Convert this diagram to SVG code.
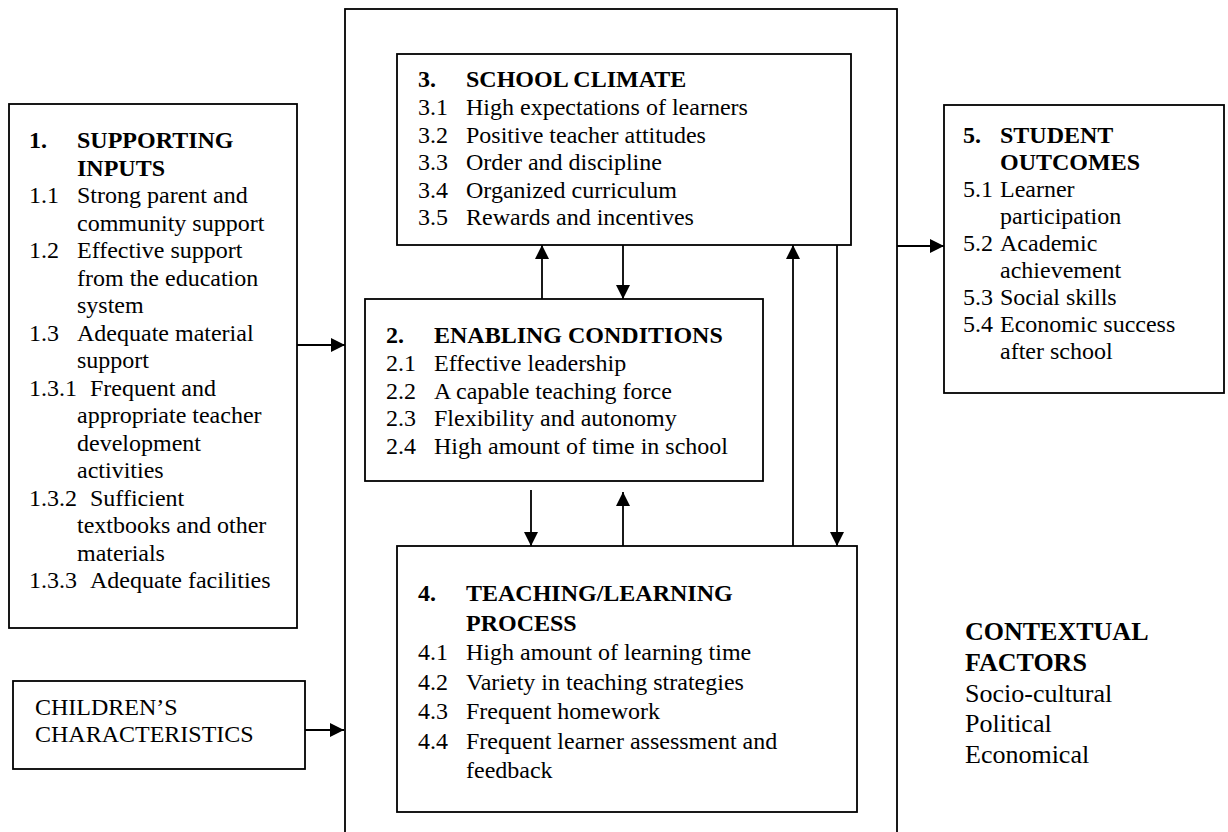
<svg xmlns="http://www.w3.org/2000/svg" width="1228" height="832" viewBox="0 0 1228 832">
<style>
  .box { fill: #fff; stroke: #000; stroke-width: 1.8; }
  .frame { fill: none; stroke: #000; stroke-width: 1.8; }
  .t { font-family: "Liberation Serif", "Times New Roman", serif; font-size: 24px; fill: #000; }
  .b { font-weight: bold; }
  .ctx { font-family: "Liberation Serif", "Times New Roman", serif; font-size: 26px; fill: #000; }
  .conn { stroke: #000; stroke-width: 1.8; fill: none; }
</style>
<defs>
  <marker id="ah" viewBox="0 0 14 14" refX="14" refY="7" markerWidth="14" markerHeight="14" markerUnits="userSpaceOnUse" orient="auto">
    <path d="M0,0 L14,7 L0,14 Z" fill="#000"/>
  </marker>
</defs>
<rect width="1228" height="832" fill="#fff"/>

<g id="frame">
  <rect class="frame" x="345" y="9" width="552" height="840"/>
</g>

<g id="node1">
  <rect class="box" x="9" y="104" width="288" height="524"/>
  <text class="t b" x="29" y="148">1.</text><text class="t b" x="77" y="148">SUPPORTING</text>
  <text class="t b" x="77" y="175.5">INPUTS</text>
  <text class="t" x="29" y="203">1.1</text><text class="t" x="77" y="203">Strong parent and</text>
  <text class="t" x="77" y="230.5">community support</text>
  <text class="t" x="29" y="258">1.2</text><text class="t" x="77" y="258">Effective support</text>
  <text class="t" x="77" y="285.5">from the education</text>
  <text class="t" x="77" y="313">system</text>
  <text class="t" x="29" y="340.5">1.3</text><text class="t" x="77" y="340.5">Adequate material</text>
  <text class="t" x="77" y="368">support</text>
  <text class="t" x="29" y="395.5">1.3.1</text><text class="t" x="90" y="395.5">Frequent and</text>
  <text class="t" x="77" y="423">appropriate teacher</text>
  <text class="t" x="77" y="450.5">development</text>
  <text class="t" x="77" y="478">activities</text>
  <text class="t" x="29" y="505.5">1.3.2</text><text class="t" x="90" y="505.5">Sufficient</text>
  <text class="t" x="77" y="533">textbooks and other</text>
  <text class="t" x="77" y="560.5">materials</text>
  <text class="t" x="29" y="588">1.3.3</text><text class="t" x="90" y="588">Adequate facilities</text>
</g>

<g id="children">
  <rect class="box" x="13" y="681" width="292" height="88"/>
  <text class="t" x="35" y="715">CHILDREN’S</text>
  <text class="t" x="35" y="742">CHARACTERISTICS</text>
</g>

<g id="node3">
  <rect class="box" x="397" y="54" width="454" height="191"/>
  <text class="t b" x="418" y="87">3.</text><text class="t b" x="466" y="87">SCHOOL CLIMATE</text>
  <text class="t" x="418" y="115">3.1</text><text class="t" x="466" y="115">High expectations of learners</text>
  <text class="t" x="418" y="142.5">3.2</text><text class="t" x="466" y="142.5">Positive teacher attitudes</text>
  <text class="t" x="418" y="170">3.3</text><text class="t" x="466" y="170">Order and discipline</text>
  <text class="t" x="418" y="197.5">3.4</text><text class="t" x="466" y="197.5">Organized curriculum</text>
  <text class="t" x="418" y="225">3.5</text><text class="t" x="466" y="225">Rewards and incentives</text>
</g>

<g id="node2">
  <rect class="box" x="365" y="299" width="398" height="182"/>
  <text class="t b" x="386" y="343">2.</text><text class="t b" x="434" y="343">ENABLING CONDITIONS</text>
  <text class="t" x="386" y="371">2.1</text><text class="t" x="434" y="371">Effective leadership</text>
  <text class="t" x="386" y="398.5">2.2</text><text class="t" x="434" y="398.5">A capable teaching force</text>
  <text class="t" x="386" y="426">2.3</text><text class="t" x="434" y="426">Flexibility and autonomy</text>
  <text class="t" x="386" y="453.5">2.4</text><text class="t" x="434" y="453.5">High amount of time in school</text>
</g>

<g id="node4">
  <rect class="box" x="397" y="546" width="460" height="266"/>
  <text class="t b" x="418" y="601">4.</text><text class="t b" x="466" y="601">TEACHING/LEARNING</text>
  <text class="t b" x="466" y="630.5">PROCESS</text>
  <text class="t" x="418" y="660">4.1</text><text class="t" x="466" y="660">High amount of learning time</text>
  <text class="t" x="418" y="689.5">4.2</text><text class="t" x="466" y="689.5">Variety in teaching strategies</text>
  <text class="t" x="418" y="719">4.3</text><text class="t" x="466" y="719">Frequent homework</text>
  <text class="t" x="418" y="748.5">4.4</text><text class="t" x="466" y="748.5">Frequent learner assessment and</text>
  <text class="t" x="466" y="778">feedback</text>
</g>

<g id="node5">
  <rect class="box" x="944" y="105" width="280" height="288"/>
  <text class="t b" x="963" y="143">5.</text><text class="t b" x="1000" y="143">STUDENT</text>
  <text class="t b" x="1000" y="170">OUTCOMES</text>
  <text class="t" x="963" y="197">5.1</text><text class="t" x="1000" y="197">Learner</text>
  <text class="t" x="1000" y="224">participation</text>
  <text class="t" x="963" y="251">5.2</text><text class="t" x="1000" y="251">Academic</text>
  <text class="t" x="1000" y="278">achievement</text>
  <text class="t" x="963" y="305">5.3</text><text class="t" x="1000" y="305">Social skills</text>
  <text class="t" x="963" y="332">5.4</text><text class="t" x="1000" y="332">Economic success</text>
  <text class="t" x="1000" y="359">after school</text>
</g>

<g id="contextual">
  <text class="ctx b" x="965" y="640">CONTEXTUAL</text>
  <text class="ctx b" x="965" y="671">FACTORS</text>
  <text class="ctx" x="965" y="702">Socio-cultural</text>
  <text class="ctx" x="965" y="732">Political</text>
  <text class="ctx" x="965" y="763">Economical</text>
</g>

<g id="connectors">
  <line class="conn" x1="297" y1="345" x2="345" y2="345" marker-end="url(#ah)"/>
  <line class="conn" x1="305" y1="730" x2="344" y2="730" marker-end="url(#ah)"/>
  <line class="conn" x1="897" y1="246" x2="944" y2="246" marker-end="url(#ah)"/>
  <line class="conn" x1="542" y1="299" x2="542" y2="245" marker-end="url(#ah)"/>
  <line class="conn" x1="623" y1="245" x2="623" y2="299" marker-end="url(#ah)"/>
  <line class="conn" x1="531" y1="490" x2="531" y2="546" marker-end="url(#ah)"/>
  <line class="conn" x1="623" y1="546" x2="623" y2="492" marker-end="url(#ah)"/>
  <line class="conn" x1="793" y1="546" x2="793" y2="245" marker-end="url(#ah)"/>
  <line class="conn" x1="837" y1="245" x2="837" y2="546" marker-end="url(#ah)"/>
</g>
</svg>
